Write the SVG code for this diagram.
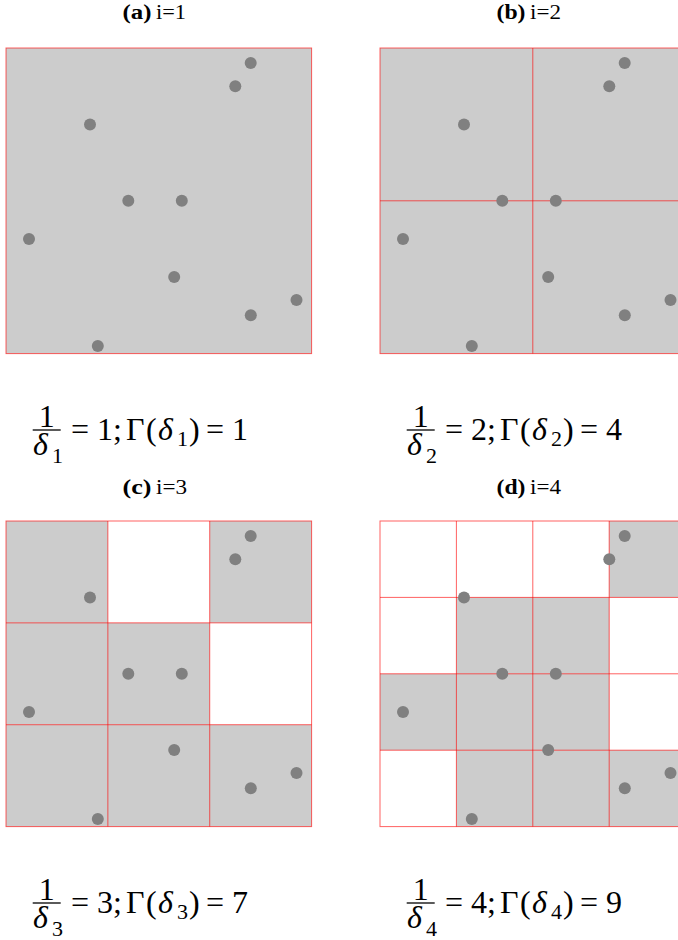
<svg xmlns="http://www.w3.org/2000/svg" width="678" height="940" viewBox="0 0 678 940">
<style>
  .bg { fill: #ffffff; }
  .cell { fill: #cccccc; }
  .grid { stroke: #ff0000; stroke-opacity: 0.62; stroke-width: 1; fill: none; }
  .dot { fill: #808080; }
  .title { font-family: "Liberation Serif", "Times New Roman", serif; font-size: 20px; fill: #000; }
  .title .b { font-weight: bold; }
  .math { font-family: "Liberation Serif", "Times New Roman", serif; font-size: 32px; fill: #000; }
  .it { font-style: italic; }
  .sub { font-size: 22px; }
  .bar { stroke: #000; stroke-width: 1.3; }
</style>
<defs>
  <g id="dots">
    <circle class="dot" cx="244.7" cy="15" r="6"/>
    <circle class="dot" cx="229.3" cy="38.3" r="6"/>
    <circle class="dot" cx="84" cy="76.5" r="6"/>
    <circle class="dot" cx="122.3" cy="152.7" r="6"/>
    <circle class="dot" cx="175.8" cy="152.7" r="6"/>
    <circle class="dot" cx="23" cy="191" r="6"/>
    <circle class="dot" cx="168.2" cy="229" r="6"/>
    <circle class="dot" cx="244.8" cy="267.3" r="6"/>
    <circle class="dot" cx="290.5" cy="252" r="6"/>
    <circle class="dot" cx="91.8" cy="298" r="6"/>
  </g>
</defs>
<rect class="bg" x="0" y="0" width="678" height="940"/>

<g id="panel-a">
  <text class="title" y="19"><tspan class="b" x="122.5" textLength="29" lengthAdjust="spacingAndGlyphs">(a)</tspan><tspan x="156" textLength="30" lengthAdjust="spacingAndGlyphs">i=1</tspan></text>
  <g transform="translate(6,48)">
    <rect class="cell" x="0" y="0" width="305.6" height="305.6"/>
    <rect class="grid" x="0" y="0" width="305.6" height="305.6"/>
    <use href="#dots"/>
  </g>
</g>

<g id="panel-b">
  <text class="title" y="19"><tspan class="b" x="496.5" textLength="29" lengthAdjust="spacingAndGlyphs">(b)</tspan><tspan x="530" textLength="31" lengthAdjust="spacingAndGlyphs">i=2</tspan></text>
  <g transform="translate(380,48)">
    <rect class="cell" x="0" y="0" width="305.6" height="305.6"/>
    <rect class="grid" x="0" y="0" width="305.6" height="305.6"/>
    <line class="grid" x1="152.8" y1="0" x2="152.8" y2="305.6"/>
    <line class="grid" x1="0" y1="152.8" x2="305.6" y2="152.8"/>
    <use href="#dots"/>
  </g>
</g>

<g id="panel-c">
  <text class="title" y="494"><tspan class="b" x="122.5" textLength="29" lengthAdjust="spacingAndGlyphs">(c)</tspan><tspan x="156" textLength="31" lengthAdjust="spacingAndGlyphs">i=3</tspan></text>
  <g transform="translate(6,521)">
    <rect class="cell" x="0" y="0" width="101.87" height="101.87"/>
    <rect class="cell" x="203.73" y="0" width="101.87" height="101.87"/>
    <rect class="cell" x="0" y="101.87" width="203.73" height="101.87"/>
    <rect class="cell" x="0" y="203.73" width="305.6" height="101.87"/>
    <rect class="grid" x="0" y="0" width="305.6" height="305.6"/>
    <line class="grid" x1="101.87" y1="0" x2="101.87" y2="305.6"/>
    <line class="grid" x1="203.73" y1="0" x2="203.73" y2="305.6"/>
    <line class="grid" x1="0" y1="101.87" x2="305.6" y2="101.87"/>
    <line class="grid" x1="0" y1="203.73" x2="305.6" y2="203.73"/>
    <use href="#dots"/>
  </g>
</g>

<g id="panel-d">
  <text class="title" y="494"><tspan class="b" x="496.5" textLength="29" lengthAdjust="spacingAndGlyphs">(d)</tspan><tspan x="530" textLength="31" lengthAdjust="spacingAndGlyphs">i=4</tspan></text>
  <g transform="translate(380,521)">
    <rect class="cell" x="229.2" y="0" width="76.4" height="76.4"/>
    <rect class="cell" x="76.4" y="76.4" width="152.8" height="76.4"/>
    <rect class="cell" x="0" y="152.8" width="229.2" height="76.4"/>
    <rect class="cell" x="76.4" y="229.2" width="229.2" height="76.4"/>
    <rect class="grid" x="0" y="0" width="305.6" height="305.6"/>
    <line class="grid" x1="76.4" y1="0" x2="76.4" y2="305.6"/>
    <line class="grid" x1="152.8" y1="0" x2="152.8" y2="305.6"/>
    <line class="grid" x1="229.2" y1="0" x2="229.2" y2="305.6"/>
    <line class="grid" x1="0" y1="76.4" x2="305.6" y2="76.4"/>
    <line class="grid" x1="0" y1="152.8" x2="305.6" y2="152.8"/>
    <line class="grid" x1="0" y1="229.2" x2="305.6" y2="229.2"/>
    <use href="#dots"/>
  </g>
</g>

<g id="formula-a" class="math">
  <text x="46.7" y="427" text-anchor="middle">1</text>
  <line class="bar" x1="32.7" y1="430" x2="60.7" y2="430"/>
  <text y="455"><tspan class="it" x="33">δ</tspan><tspan class="sub" x="52" y="463">1</tspan></text>
  <text y="440"><tspan x="71">=</tspan><tspan x="97">1;</tspan><tspan x="126">Γ</tspan><tspan x="146">(</tspan><tspan class="it" x="158">δ</tspan><tspan class="sub" x="177" y="446">1</tspan><tspan x="189" y="440">)</tspan><tspan x="206">=</tspan><tspan x="232">1</tspan></text>
</g>
<g id="formula-b" class="math" transform="translate(374,0)">
  <text x="46.7" y="427" text-anchor="middle">1</text>
  <line class="bar" x1="32.7" y1="430" x2="60.7" y2="430"/>
  <text y="455"><tspan class="it" x="33">δ</tspan><tspan class="sub" x="52" y="463">2</tspan></text>
  <text y="440"><tspan x="71">=</tspan><tspan x="97">2;</tspan><tspan x="126">Γ</tspan><tspan x="146">(</tspan><tspan class="it" x="158">δ</tspan><tspan class="sub" x="177" y="446">2</tspan><tspan x="189" y="440">)</tspan><tspan x="206">=</tspan><tspan x="232">4</tspan></text>
</g>
<g id="formula-c" class="math" transform="translate(0,473)">
  <text x="46.7" y="427" text-anchor="middle">1</text>
  <line class="bar" x1="32.7" y1="430" x2="60.7" y2="430"/>
  <text y="455"><tspan class="it" x="33">δ</tspan><tspan class="sub" x="52" y="463">3</tspan></text>
  <text y="440"><tspan x="71">=</tspan><tspan x="97">3;</tspan><tspan x="126">Γ</tspan><tspan x="146">(</tspan><tspan class="it" x="158">δ</tspan><tspan class="sub" x="177" y="446">3</tspan><tspan x="189" y="440">)</tspan><tspan x="206">=</tspan><tspan x="232">7</tspan></text>
</g>
<g id="formula-d" class="math" transform="translate(374,473)">
  <text x="46.7" y="427" text-anchor="middle">1</text>
  <line class="bar" x1="32.7" y1="430" x2="60.7" y2="430"/>
  <text y="455"><tspan class="it" x="33">δ</tspan><tspan class="sub" x="52" y="463">4</tspan></text>
  <text y="440"><tspan x="71">=</tspan><tspan x="97">4;</tspan><tspan x="126">Γ</tspan><tspan x="146">(</tspan><tspan class="it" x="158">δ</tspan><tspan class="sub" x="177" y="446">4</tspan><tspan x="189" y="440">)</tspan><tspan x="206">=</tspan><tspan x="232">9</tspan></text>
</g>
</svg>
